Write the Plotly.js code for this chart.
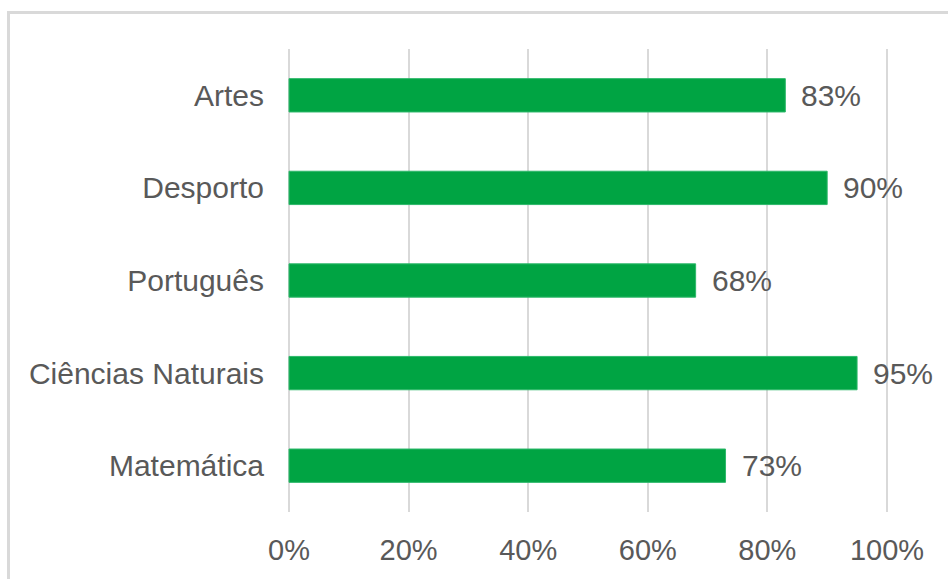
<!DOCTYPE html>
<html>
<head>
<meta charset="utf-8">
<script src="https://cdn.plot.ly/plotly-3.0.1.min.js"></script>
<style>html,body{margin:0;padding:0;background:#fff;}#chart{width:948px;height:579px;}</style>
</head>
<body>
<div id="chart"></div>
<script>
const categories = ["Artes", "Desporto", "Português", "Ciências Naturais", "Matemática"];
const values = [0.83, 0.90, 0.68, 0.95, 0.73];
const valueLabels = ["83%", "90%", "68%", "95%", "73%"];
const xTickVals = [0, 0.2, 0.4, 0.6, 0.8, 1.0];
const xTickText = ["0%", "20%", "40%", "60%", "80%", "100%"];

const gray = "#595959";
const fontFam = "Liberation Sans, Arial, sans-serif";

const trace = {
  type: "bar",
  orientation: "h",
  x: values,
  y: categories,
  marker: {color: "#00A443", line: {color: "#2DB86A", width: 1}},
  hoverinfo: "skip",
  cliponaxis: false
};

const annotations = values.map((v, i) => ({
  x: v, y: categories[i], xref: "x", yref: "y",
  text: valueLabels[i], showarrow: false,
  xanchor: "left", yanchor: "middle", xshift: 14,
  font: {family: fontFam, size: 30, color: gray}
}));

const layout = {
  width: 948, height: 579,
  margin: {l: 287, r: 59, t: 49, b: 67},
  paper_bgcolor: "#fff", plot_bgcolor: "#fff",
  showlegend: false,
  bargap: 0.64,
  font: {family: fontFam, size: 30, color: gray},
  xaxis: {
    range: [-0.0034, 1.0034], tickvals: xTickVals, ticktext: xTickText,
    showgrid: true, gridcolor: "#d9d9d9", gridwidth: 2,
    zeroline: false, showline: false, ticks: "",
    ticklabelstandoff: 18,
    tickfont: {family: fontFam, size: 29, color: gray},
    fixedrange: true
  },
  yaxis: {
    categoryorder: "array", categoryarray: categories.slice().reverse(),
    autorange: false, range: [-0.5, 4.5],
    showgrid: false, zeroline: false, showline: false, ticks: "",
    ticklabelstandoff: 22,
    tickfont: {family: fontFam, size: 30, color: gray},
    fixedrange: true
  },
  annotations: annotations,
  shapes: [{
    type: "path", xref: "paper", yref: "paper",
    path: "M -0.4626,-0.3 L -0.4626,1.079 L 1.2,1.079",
    line: {color: "#d9d9d9", width: 3}
  }]
};

Plotly.newPlot("chart", [trace], layout, {displayModeBar: false, staticPlot: true});
</script>
</body>
</html>
